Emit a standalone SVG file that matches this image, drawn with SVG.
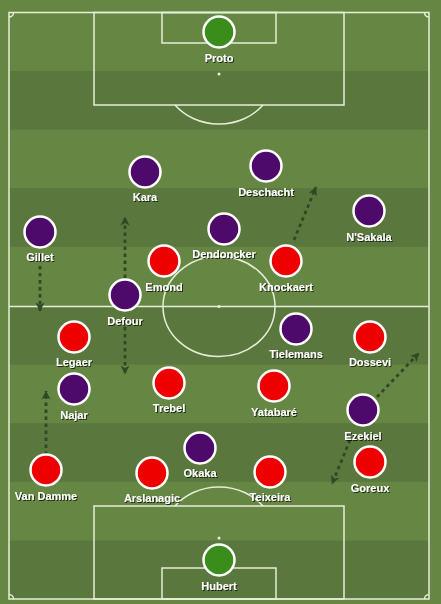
<svg xmlns="http://www.w3.org/2000/svg" width="441" height="604" viewBox="0 0 441 604">
<defs>
<style>
.line{fill:none;stroke:#e6eed8;stroke-width:1.5}
.spot{fill:#e6eed8}
.p circle{stroke:#fff;stroke-width:2.5}
.red{fill:#ee0000}
.pur{fill:#4d0a6a}
.gk{fill:#3a8c1b}
text{font-family:"Liberation Sans",Arial,sans-serif;font-weight:bold;font-size:11px;fill:#fff;text-anchor:middle;filter:url(#sh)}
.arr{fill:none;stroke:#2e4a24;stroke-width:2.8;stroke-dasharray:3.5 3.5;marker-end:url(#ah)}
</style>
<filter id="sh" x="-20%" y="-40%" width="140%" height="180%">
<feDropShadow dx="1" dy="1" stdDeviation="0.7" flood-color="#000" flood-opacity="0.7"/>
</filter>
<marker id="ah" markerUnits="userSpaceOnUse" markerWidth="12" markerHeight="12" refX="8.5" refY="5" orient="auto">
<path d="M0,0.5 L9,5 L0,9.5 L2.5,5 z" fill="#2e4a24"/>
</marker>
</defs>
<rect x="0" y="0" width="441" height="604" fill="#668744"/>
<g id="stripes" fill="#5a783d">
<rect x="9" y="71" width="420" height="58.6"/>
<rect x="9" y="188.2" width="420" height="58.6"/>
<rect x="9" y="306" width="420" height="58.6"/>
<rect x="9" y="423.2" width="420" height="58.6"/>
<rect x="9" y="540.5" width="420" height="58.6"/>
</g>
<g id="pitch">
<rect class="line" x="9" y="12.5" width="420" height="586.5"/>
<line class="line" x1="9" y1="306.5" x2="429" y2="306.5"/>
<ellipse class="line" cx="219" cy="306.5" rx="56" ry="50"/>
<circle class="spot" cx="219" cy="306.5" r="1.5"/>
<rect class="line" x="94" y="12.5" width="250" height="92.5"/>
<rect class="line" x="162" y="12.5" width="114" height="30.5"/>
<circle class="spot" cx="219" cy="74" r="1.5"/>
<path class="line" d="M175,105 A56,50 0 0 0 263,105"/>
<rect class="line" x="94" y="506" width="250" height="93"/>
<rect class="line" x="162" y="568" width="114" height="31"/>
<circle class="spot" cx="219" cy="538" r="1.5"/>
<path class="line" d="M175,506 A56,50 0 0 1 263,506"/>
<path class="line" d="M9,17 A4.5,4.5 0 0 0 13.5,12.5"/>
<path class="line" d="M424.5,12.5 A4.5,4.5 0 0 0 429,17"/>
<path class="line" d="M9,594.5 A4.5,4.5 0 0 1 13.5,599"/>
<path class="line" d="M424.5,599 A4.5,4.5 0 0 1 429,594.5"/>
</g>
<g id="connectors">
<line class="arr" x1="40" y1="266" x2="40" y2="311"/>
<line class="arr" x1="125" y1="278" x2="125" y2="217"/>
<line class="arr" x1="294" y1="240" x2="316" y2="187"/>
<line class="arr" x1="125" y1="327" x2="125" y2="374"/>
<line class="arr" x1="46" y1="455" x2="46" y2="391"/>
<line class="arr" x1="377" y1="397" x2="419" y2="353"/>
<line class="arr" x1="350" y1="440" x2="332" y2="484"/>
</g>
<g id="proto" class="p"><circle class="gk" cx="219" cy="32" r="15.5"/><text x="219" y="62">Proto</text></g>
<g id="kara" class="p"><circle class="pur" cx="145" cy="172" r="15.5"/><text x="145" y="201">Kara</text></g>
<g id="deschacht" class="p"><circle class="pur" cx="266" cy="166" r="15.5"/><text x="266" y="196">Deschacht</text></g>
<g id="nsakala" class="p"><circle class="pur" cx="369" cy="211" r="15.5"/><text x="369" y="241">N'Sakala</text></g>
<g id="gillet" class="p"><circle class="pur" cx="40" cy="232" r="15.5"/><text x="40" y="261">Gillet</text></g>
<g id="dendoncker" class="p"><circle class="pur" cx="224" cy="229" r="15.5"/><text x="224" y="258">Dendoncker</text></g>
<g id="emond" class="p"><circle class="red" cx="164" cy="261" r="15.5"/><text x="164" y="291">Emond</text></g>
<g id="knockaert" class="p"><circle class="red" cx="286" cy="261" r="15.5"/><text x="286" y="291">Knockaert</text></g>
<g id="defour" class="p"><circle class="pur" cx="125" cy="295" r="15.5"/><text x="125" y="325">Defour</text></g>
<g id="legaer" class="p"><circle class="red" cx="74" cy="337" r="15.5"/><text x="74" y="366">Legaer</text></g>
<g id="tielemans" class="p"><circle class="pur" cx="296" cy="329" r="15.5"/><text x="296" y="358">Tielemans</text></g>
<g id="dossevi" class="p"><circle class="red" cx="370" cy="337" r="15.5"/><text x="370" y="366">Dossevi</text></g>
<g id="najar" class="p"><circle class="pur" cx="74" cy="389" r="15.5"/><text x="74" y="419">Najar</text></g>
<g id="trebel" class="p"><circle class="red" cx="169" cy="383" r="15.5"/><text x="169" y="412">Trebel</text></g>
<g id="yatabare" class="p"><circle class="red" cx="274" cy="386" r="15.5"/><text x="274" y="416">Yatabaré</text></g>
<g id="ezekiel" class="p"><circle class="pur" cx="363" cy="410" r="15.5"/><text x="363" y="440">Ezekiel</text></g>
<g id="okaka" class="p"><circle class="pur" cx="200" cy="448" r="15.5"/><text x="200" y="477">Okaka</text></g>
<g id="goreux" class="p"><circle class="red" cx="370" cy="462" r="15.5"/><text x="370" y="492">Goreux</text></g>
<g id="vandamme" class="p"><circle class="red" cx="46" cy="470" r="15.5"/><text x="46" y="500">Van Damme</text></g>
<g id="arslanagic" class="p"><circle class="red" cx="152" cy="473" r="15.5"/><text x="152" y="502">Arslanagic</text></g>
<g id="teixeira" class="p"><circle class="red" cx="270" cy="472" r="15.5"/><text x="270" y="501">Teixeira</text></g>
<g id="hubert" class="p"><circle class="gk" cx="219" cy="560" r="15.5"/><text x="219" y="590">Hubert</text></g>
</svg>
